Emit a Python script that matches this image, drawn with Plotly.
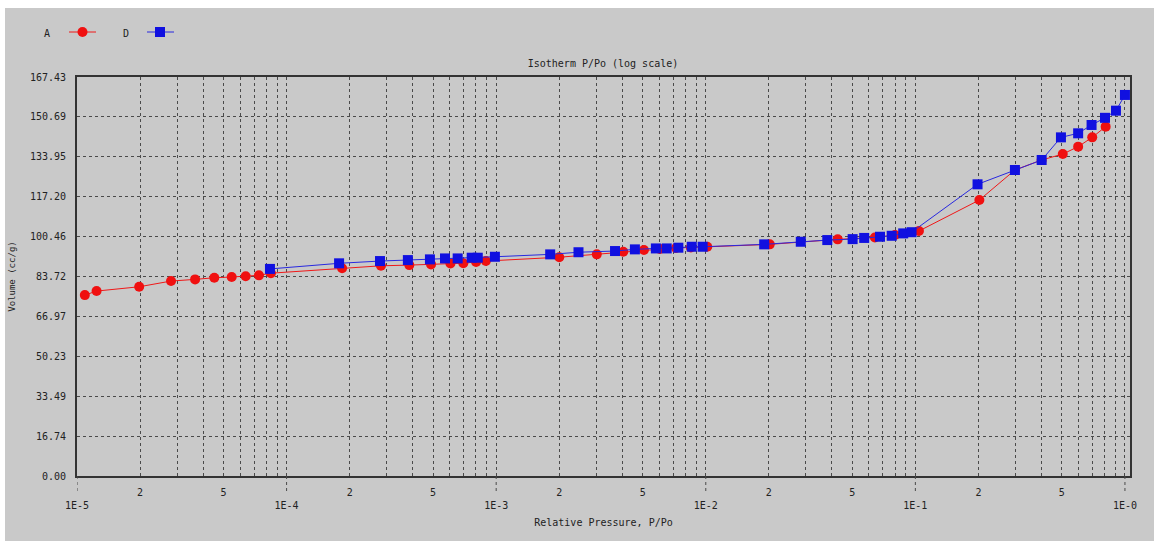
import plotly.graph_objects as go
import numpy as np

# ---- data ----
a_p = [1.09e-5, 1.24e-5, 1.98e-5, 2.81e-5, 3.66e-5, 4.52e-5, 5.47e-5, 6.38e-5, 7.38e-5, 8.42e-5,
       1.84e-4, 2.82e-4, 3.85e-4, 4.89e-4, 6.05e-4, 6.97e-4, 8.02e-4, 8.93e-4,
       2.00e-3, 3.02e-3, 4.04e-3, 5.07e-3, 6.04e-3, 7.21e-3, 8.49e-3,
       1.016e-2, 2.02e-2, 4.26e-2, 6.41e-2, 8.0e-2,
       0.104, 0.202, 0.2985, 0.4005, 0.505, 0.598, 0.698, 0.809]
a_v = [75.9, 77.6, 79.4, 81.8, 82.5, 83.2, 83.5, 83.8, 84.2, 85.1,
       87.2, 88.2, 88.5, 88.8, 89.2, 89.3, 89.8, 90.2,
       91.8, 93.0, 94.1, 94.8, 95.3, 95.7, 95.9,
       96.2, 97.2, 99.3, 100.1, 101.1,
       102.8, 115.8, 128.4, 132.6, 135.1, 138.2, 142.1, 146.6]

d_p = [8.33e-5, 1.78e-4, 2.79e-4, 3.79e-4, 4.83e-4, 5.70e-4, 6.55e-4, 7.64e-4, 8.17e-4, 9.86e-4,
       1.81e-3, 2.47e-3, 3.69e-3, 4.59e-3, 5.78e-3, 6.51e-3, 7.40e-3, 8.57e-3, 9.66e-3,
       1.90e-2, 2.84e-2, 3.80e-2, 5.02e-2, 5.70e-2, 6.78e-2, 7.71e-2, 8.75e-2, 9.59e-2,
       0.198, 0.2985, 0.4005, 0.495, 0.598, 0.693, 0.803, 0.906, 1.0]
d_v = [86.9, 89.25, 90.2, 90.6, 90.9, 91.3, 91.3, 91.6, 91.6, 92.0,
       93.0, 93.9, 94.4, 95.1, 95.5, 95.5, 95.8, 96.2, 96.2,
       97.2, 98.3, 99.0, 99.4, 99.9, 100.4, 100.8, 101.8, 102.3,
       122.4, 128.4, 132.6, 142.1, 143.8, 147.3, 150.3, 153.3, 159.9]

y_ticks = [0.00, 16.74, 33.49, 50.23, 66.97, 83.72, 100.46, 117.20, 133.95, 150.69, 167.43]
y_labels = ["0.00", "16.74", "33.49", "50.23", "66.97", "83.72", "100.46", "117.20",
            "133.95", "150.69", "167.43"]
decades = [-5, -4, -3, -2, -1, 0]
decade_labels = ["1E-5", "1E-4", "1E-3", "1E-2", "1E-1", "1E-0"]
x_max = 1.057

# ---- x tick values / text ----
x_vals, x_text = [], []
for d, lab in zip(decades, decade_labels):
    for m in range(1, 10):
        if d == 0 and m > 1:
            break
        x_vals.append(m * 10.0 ** d)
        if m == 1:
            x_text.append("<br>" + lab)
        elif m in (2, 5):
            x_text.append(str(m))
        else:
            x_text.append("")

W, H = 1154, 541
L, R, T, B = 77, 1130, 77, 476
BG = "#c9c9c9"
GRID = "#4a4a4a"
FONT = "DejaVu Sans Mono"


def px(xp):
    return (xp - L) / (R - L)


def py(yp):
    return (B - yp) / (B - T)


fig = go.Figure()
fig.add_trace(go.Scatter(x=a_p, y=a_v, mode="lines+markers", name="A",
                         line=dict(color="#f01818", width=1),
                         marker=dict(color="#f01010", size=10, symbol="circle")))
fig.add_trace(go.Scatter(x=d_p, y=d_v, mode="lines+markers", name="D",
                         line=dict(color="#2828e0", width=1),
                         marker=dict(color="#1010e0", size=10, symbol="square")))

shapes = []
# outer gray panel (white frame at top/left)
shapes.append(dict(type="rect", xref="paper", yref="paper", layer="below",
                   x0=px(5), x1=px(W + 5), y0=py(8), y1=py(H + 5),
                   fillcolor=BG, line=dict(width=0)))
# decade tick extensions below axis
for d in decades:
    shapes.append(dict(type="line", xref="x", yref="paper", x0=10.0 ** d, x1=10.0 ** d,
                       y0=0, y1=py(494), line=dict(color=GRID, width=1, dash="dot")))
# manual legend
shapes.append(dict(type="line", xref="paper", yref="paper", x0=px(69), x1=px(96),
                   y0=py(32), y1=py(32), line=dict(color="#f01818", width=1)))
shapes.append(dict(type="circle", xref="paper", yref="paper", x0=px(77.5), x1=px(87.5),
                   y0=py(27), y1=py(37), fillcolor="#f01010", line=dict(width=0)))
shapes.append(dict(type="line", xref="paper", yref="paper", x0=px(147), x1=px(174),
                   y0=py(32), y1=py(32), line=dict(color="#2828e0", width=1)))
shapes.append(dict(type="rect", xref="paper", yref="paper", x0=px(155), x1=px(165),
                   y0=py(27), y1=py(37), fillcolor="#1010e0", line=dict(width=0)))

annotations = [
    dict(text="A", xref="paper", yref="paper", x=px(47), y=py(33), showarrow=False,
         font=dict(family=FONT, size=10, color="#222"), xanchor="center", yanchor="middle"),
    dict(text="D", xref="paper", yref="paper", x=px(126), y=py(33), showarrow=False,
         font=dict(family=FONT, size=10, color="#222"), xanchor="center", yanchor="middle"),
]

fig.update_layout(
    width=W, height=H,
    margin=dict(l=L, r=W - R, t=T, b=H - B, pad=0),
    paper_bgcolor="white", plot_bgcolor=BG,
    showlegend=False,
    title=dict(text="Isotherm P/Po (log scale)", x=px(603), xref="paper",
               y=1 - 63 / H, yref="container", xanchor="center", yanchor="middle",
               font=dict(family=FONT, size=10, color="#222")),
    font=dict(family=FONT, size=10, color="#222"),
    shapes=shapes, annotations=annotations,
)
fig.update_xaxes(type="log", range=[-5, np.log10(x_max)],
                 tickvals=x_vals, ticktext=x_text, tickangle=0,
                 showgrid=True, gridcolor=GRID, griddash="dot", gridwidth=1,
                 showline=True, linecolor="#333", linewidth=2, mirror=True,
                 ticks="outside", ticklen=6, tickcolor="rgba(0,0,0,0)",
                 tickfont=dict(family=FONT, size=10, color="#222"),
                 title=dict(text="Relative Pressure, P/Po", standoff=9,
                            font=dict(family=FONT, size=10, color="#222")),
                 zeroline=False)
fig.update_yaxes(range=[0, 167.43], tickvals=y_ticks, ticktext=y_labels,
                 showgrid=True, gridcolor=GRID, griddash="dot", gridwidth=1,
                 showline=True, linecolor="#333", linewidth=2, mirror=True,
                 ticks="outside", ticklen=7, tickcolor="rgba(0,0,0,0)",
                 tickfont=dict(family=FONT, size=10, color="#222"),
                 title=dict(text="Volume (cc/g)", standoff=13,
                            font=dict(family=FONT, size=9, color="#222")),
                 zeroline=False)

fig.write_html("out.html", config={"displayModeBar": False},
               post_script="document.body.style.margin='0';")
